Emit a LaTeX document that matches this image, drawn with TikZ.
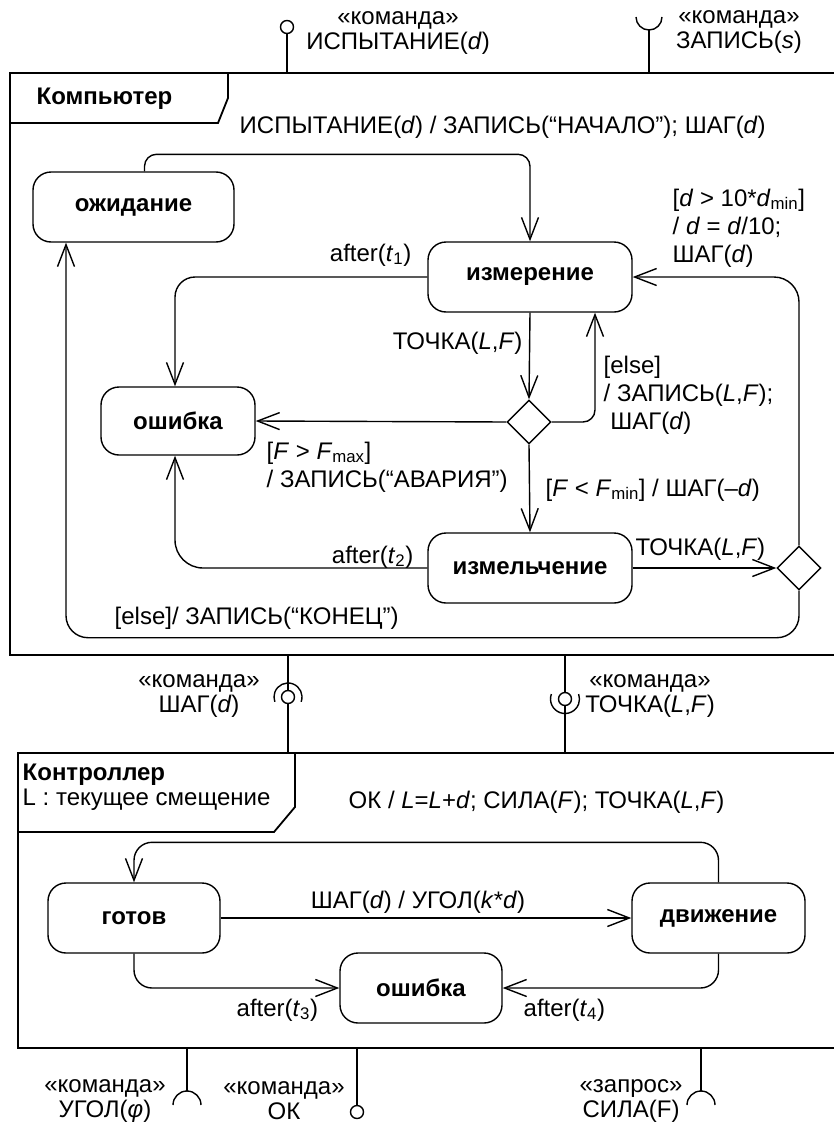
\documentclass[tikz,border=0pt]{standalone}
\usepackage{fontspec}
\setmainfont{Liberation Sans}
\usetikzlibrary{arrows.meta,shapes.geometric}
\newcommand{\fs}{\fontsize{24}{28}\selectfont}
\newcommand{\vi}[1]{\textit{#1}}
\newcommand{\lo}[1]{\textsubscript{#1}}
\begin{document}
\begin{tikzpicture}[x=1pt,y=-1pt,line width=1.4pt,font=\fs,
  every node/.style={inner sep=0pt},
  state/.style={draw,rounded corners=18pt,minimum height=70pt,font=\fs\bfseries},
  choice/.style={draw,diamond,minimum width=44pt,minimum height=44pt},
  tr/.style={-{Straight Barb[length=22pt,width=17pt]},rounded corners=20pt},
  frame/.style={line width=1.8pt},
  ball/.style={draw,circle,fill=white,minimum size=13pt},
  pair/.style={align=center,font=\fontsize{24}{25}\selectfont}]
\useasboundingbox (0,0) rectangle (833,1127);
% Computer
\draw[frame] (10,73) rectangle (845,655);
\draw[frame] (10,123) -- (218,123) -- (228,98) -- (228,73);
\node[anchor=west,font=\fs\bfseries] (compName) at (36,99) {Компьютер};
\node[state,minimum width=201pt] (wait) at (133.5,207) {ожидание};
\node[state,minimum width=204pt] (meas) at (530,277) {измерение};
\node[state,minimum width=154pt,minimum height=68pt] (fault) at (178,421) {ошибка};
\node[choice] (c1) at (529,422) {};
\node[state,minimum width=204pt] (grind) at (530,568) {измельчение};
\node[choice] (c2) at (799,568) {};
\draw[tr,rounded corners=12pt] ([xshift=11pt]wait.north) -- ++(0,-17) -| (meas.north);
\draw[tr] (meas.west) -| ([xshift=-3pt]fault.north);
\draw[tr] (meas.south) -- (c1.north);
\draw[tr] (c1.west) -- (fault.east);
\draw[tr,rounded corners=12pt] (c1.east) -| ([xshift=65pt]meas.south);
\draw[tr] (c1.south) -- (grind.north);
\draw[tr,rounded corners=28pt] (grind.west) -| ([xshift=-3pt]fault.south);
\draw[tr] (grind.east) -- (c2.west);
\draw[tr,rounded corners=25pt] (c2.north) |- (meas.east);
\draw[tr,rounded corners=22pt] (c2.south) -- ++(0,47) -| ([xshift=-67.5pt]wait.south);
\node[anchor=west] (lStart) at (239,127) {ИСПЫТАНИЕ(\vi{d}) / ЗАПИСЬ(“НАЧАЛО”); ШАГ(\vi{d})};
\node[anchor=east] (lT1) at (412,255) {after(\vi{t}\lo{1})};
\node[align=left,anchor=west] (lRefine) at (672,228) {[\vi{d} > 10*\vi{d}\lo{min}]\\/ \vi{d} = \vi{d}/10;\\ШАГ(\vi{d})};
\node[anchor=east] (lPt1) at (523,343) {ТОЧКА(\vi{L},\vi{F})};
\node[align=left,anchor=west] (lElse1) at (603,395) {[else]\\/ ЗАПИСЬ(\vi{L},\vi{F});\\\ ШАГ(\vi{d})};
\node[align=left,anchor=west] (lMax) at (266,467) {[\vi{F} > \vi{F}\lo{max}]\\/ ЗАПИСЬ(“АВАРИЯ”)};
\node[anchor=west] (lMin) at (545,490) {[\vi{F} < \vi{F}\lo{min}] / ШАГ(–\vi{d})};
\node[anchor=east] (lT2) at (414,557) {after(\vi{t}\lo{2})};
\node[anchor=west] (lPt2) at (635,549) {ТОЧКА(\vi{L},\vi{F})};
\node[anchor=west] (lEnd) at (114,618) {[else]/ ЗАПИСЬ(“КОНЕЦ”)};
% interfaces of the computer
\node[ball] (bTest) at (287,27) {};
\coordinate (pTest) at (287,73);
\draw (bTest) -- (pTest);
\node[pair] (iTest) at (398,33) {«команда»\\ИСПЫТАНИЕ(\vi{d})};
\coordinate (sLog) at (649,30);
\coordinate (pLog) at (649,73);
\draw (sLog) -- (pLog);
\draw (636,17) arc[start angle=180,end angle=360,radius=13pt];
\node[pair] (iLog) at (739,32) {«команда»\\ЗАПИСЬ(\vi{s})};
\coordinate (pStepA) at (288,655);
\coordinate (pStepB) at (288,753);
\draw (pStepA) -- (pStepB);
\node[ball] (bStep) at (288,697) {};
\draw ([shift={(-20:14pt)}]bStep.center) arc[start angle=-20,end angle=200,radius=14pt];
\node[pair] (iStep) at (199,696) {«команда»\\ШАГ(\vi{d})};
\coordinate (pPointA) at (565,655);
\coordinate (pPointB) at (565,753);
\draw (pPointA) -- (pPointB);
\node[ball] (bPoint) at (565,699) {};
\draw ([shift={(160:14.5pt)}]bPoint.center) arc[start angle=160,end angle=380,radius=14.5pt];
\node[pair] (iPoint) at (650,696) {«команда»\\ТОЧКА(\vi{L},\vi{F})};
% Controller
\draw[frame] (18,753) rectangle (845,1048);
\draw[frame] (18,832) -- (274,832) -- (295,807) -- (295,753);
\node[anchor=west,font=\fs\bfseries] (ctlName) at (22,775) {Контроллер};
\node[anchor=west] (ctlAttr) at (22,800) {L : текущее смещение};
\node[state,minimum width=172pt] (ready) at (134,918) {готов};
\node[state,minimum width=173pt] (move) at (718.5,918) {движение};
\node[state,minimum width=162pt] (fail) at (421,988) {ошибка};
\draw[tr,rounded corners=18pt] (move.north) -- ++(0,-40) -| (ready.north);
\draw[tr] (ready.east) -- (move.west);
\draw[tr,rounded corners=18pt] (ready.south) |- (fail.west);
\draw[tr,rounded corners=18pt] (move.south) |- (fail.east);
\node[anchor=west] (lOk) at (348,802) {ОК / \vi{L}=\vi{L}+\vi{d}; СИЛА(\vi{F}); ТОЧКА(\vi{L},\vi{F})};
\node (lStep) at (418,902) {ШАГ(\vi{d}) / УГОЛ(\vi{k}*\vi{d})};
\node[anchor=west] (lT3) at (236,1010) {after(\vi{t}\lo{3})};
\node[anchor=west] (lT4) at (523,1010) {after(\vi{t}\lo{4})};
% interfaces of the controller
\coordinate (pAng) at (187,1048);
\coordinate (sAng) at (187,1091);
\draw (pAng) -- (sAng);
\draw (201,1105) arc[start angle=0,end angle=180,radius=14pt];
\node[pair] (iAng) at (105,1101) {«команда»\\УГОЛ(\vi{φ})};
\coordinate (pOk) at (357,1048);
\node[ball] (bOk) at (357,1112) {};
\draw (pOk) -- (bOk);
\node[pair] (iOk) at (284,1101) {«команда»\\ОК};
\coordinate (pForce) at (701,1048);
\coordinate (sForce) at (701,1091);
\draw (pForce) -- (sForce);
\draw (715,1105) arc[start angle=0,end angle=180,radius=14pt];
\node[pair] (iForce) at (631,1101) {«запрос»\\СИЛА(F)};
\end{tikzpicture}
\end{document}
